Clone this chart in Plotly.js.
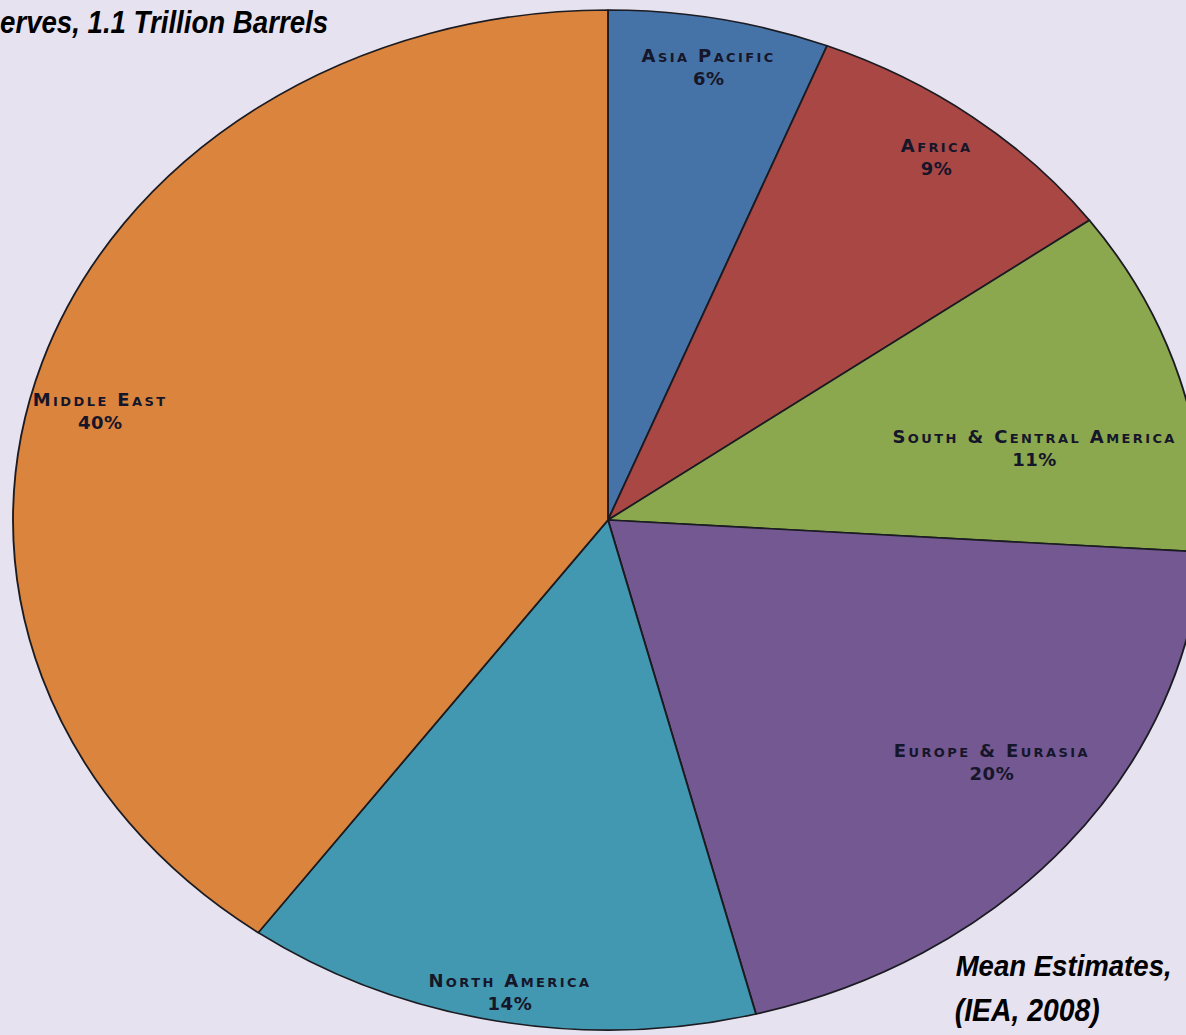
<!DOCTYPE html>
<html><head><meta charset="utf-8">
<script src="https://cdn.plot.ly/plotly-3.0.1.min.js"></script>
<style>html,body{margin:0;padding:0;background:#E7E2EF;} #chart{width:1186px;height:1035px;}</style>
</head><body><div id="chart"></div>
<script>
// ---- data ----
const regions = ['Asia Pacific', 'Africa', 'South & Central America', 'Europe & Eurasia', 'North America', 'Middle East'];
const shares = [6, 9, 11, 20, 14, 40];
const sliceColors = ['#4673A7', '#A94744', '#8BA84F', '#735892', '#4298B0', '#DB843D'];
const titleText = 'erves, 1.1 Trillion Barrels';
const noteLine1 = 'Mean Estimates,';
const noteLine2 = '(IEA, 2008)';

// ---- layout constants ----
const W = 1186, H = 1035;
const CX = 608, CY = 520, RY = 510, RX = 595;
const labelRadius = [0.905, 0.9, 0.73, 0.8, 0.94, 0.88];
const labelTurn = [0, 0, 5, -3.3, -0.7, -4];

const total = shares.reduce((a, b) => a + b, 0);
let cum = 0;
const labelAnns = shares.map((v, i) => {
  const mid = (cum + v / 2) / total * 360 + labelTurn[i];
  cum += v;
  const t = mid * Math.PI / 180;
  const px = CX + RX * labelRadius[i] * Math.sin(t);
  const py = CY - RY * labelRadius[i] * Math.cos(t);
  return {
    x: px / W, y: 1 - py / H, xref: 'paper', yref: 'paper',
    xanchor: 'center', yanchor: 'middle', showarrow: false, align: 'center',
    text: regions[i] + '<br>' + v + '%',
    font: {family: 'DejaVu Sans', size: 18, weight: 'bold', variant: 'small-caps', color: '#16162a'}
  };
});

// free text blocks: [text, left px, width px, center y px, font size]
const textBlocks = [
  [titleText, 0, 328, 22, 32],
  [noteLine1, 955, 216, 966, 29],
  [noteLine2, 955, 145, 1010, 31]
];
const annotations = labelAnns.concat(textBlocks.map(b => ({
  x: (b[1] + b[2] / 2) / W, y: 1 - b[3] / H, xref: 'paper', yref: 'paper',
  xanchor: 'center', yanchor: 'middle', showarrow: false, text: b[0],
  font: {family: 'Liberation Sans, Arial, sans-serif', size: b[4], weight: 'bold', style: 'italic', color: '#000'}
})));

const data = [{
  type: 'pie',
  labels: regions,
  values: shares,
  sort: false,
  direction: 'clockwise',
  rotation: 0,
  textinfo: 'none',
  hoverinfo: 'skip',
  marker: {colors: sliceColors, line: {color: '#1b1b22', width: 1.6}},
  domain: {x: [(CX - RY) / W, (CX + RY) / W], y: [(H - CY - RY) / H, (H - CY + RY) / H]}
}];

const layout = {
  width: W, height: H,
  margin: {l: 0, r: 0, t: 0, b: 0},
  paper_bgcolor: '#E7E2EF',
  showlegend: false,
  annotations: annotations
};

Plotly.newPlot('chart', data, layout, {staticPlot: true}).then(gd => {
  const sx = RX / RY;
  const pl = gd.querySelector('.pielayer');
  if (pl) pl.setAttribute('transform', `translate(${CX},0) scale(${sx},1) translate(${-CX},0)`);
  const anns = gd.querySelectorAll('.annotation');
  anns.forEach((a, i) => {
    const t = a.querySelector('text');
    if (!t) return;
    if (i < regions.length) {
      const lines = t.querySelectorAll('tspan.line');
      if (lines.length) {
        lines[0].style.letterSpacing = '2.4px';
        if (lines[1]) lines[1].style.letterSpacing = '0.5px';
      } else {
        t.style.letterSpacing = '2px';
      }
    } else {
      const b = textBlocks[i - regions.length];
      t.setAttribute('textLength', b[2]);
      t.setAttribute('lengthAdjust', 'spacingAndGlyphs');
    }
  });
});
</script>
</body></html>
